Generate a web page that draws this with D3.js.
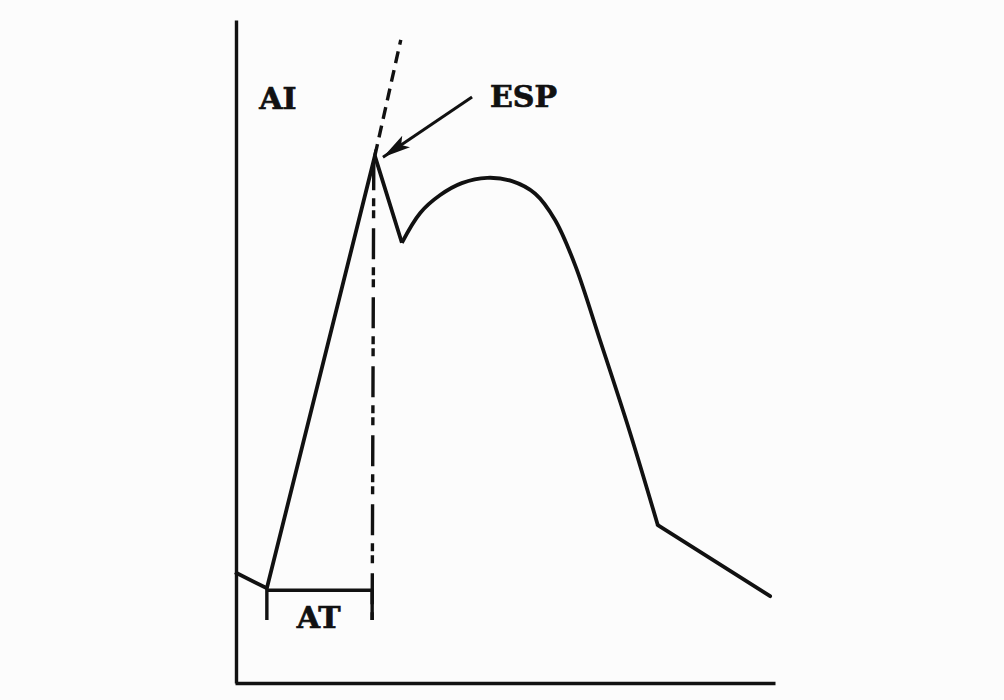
<!DOCTYPE html>
<html>
<head>
<meta charset="utf-8">
<script src="https://cdn.jsdelivr.net/npm/d3@7/dist/d3.min.js"></script>
<style>
  html, body { margin: 0; padding: 0; background: #fcfcfc; }
  svg { display: block; }
  text { font-family: "DejaVu Serif", "Liberation Serif", serif; font-weight: bold; fill: #111; stroke: #111; stroke-width: 0.7px; }
</style>
</head>
<body>
<script>
// ---- data (time in %, AI in %) ----
const riseT = [0, 5.9, 25.9, 30.9];
const riseAI = [16.7, 14.3, 79.5, 66.4];
const humpT = [30.9, 34.3, 38.0, 42.0, 46.7, 51.3, 55.6, 59.3, 63.0, 67.6, 73.1, 78.3];
const humpAI = [66.4, 70.9, 73.6, 75.4, 76.2, 75.7, 73.8, 69.8, 63.0, 51.7, 37.9, 23.8];
const tailT = [78.3, 99.1];
const tailAI = [23.8, 13.1];
const extT = [25.9, 30.7];          // dashed extension of the rise
const extAI = [79.5, 97.0];
const espT = 25.7;                  // ESP vertical marker
const espRange = [79.0, 9.5];
const atT = [5.9, 25.4];            // AT bracket
const atLevel = 14.0;
const atTickEnd = 9.5;
const arrowFrom = [43.9, 88.4];
const arrowTo = [27.4, 79.3];
const labels = [
  { text: "AI", t: 4.5, ai: 86.6, anchor: "start" },
  { text: "ESP", t: 47.2, ai: 86.9, anchor: "start" },
  { text: "AT", t: 15.5, ai: 8.3, anchor: "middle" }
];

const W = 1004, H = 700;
const svg = d3.select("body").append("svg").attr("width", W).attr("height", H);

const x = d3.scaleLinear().domain([0, 100]).range([235, 775]);
const y = d3.scaleLinear().domain([0, 100]).range([683, 20]);

// axes (no ticks)
svg.append("g").attr("transform", `translate(0,${y(0)})`)
  .call(d3.axisBottom(x).tickValues([]).tickSizeOuter(0))
  .call(g => g.select(".domain").attr("stroke", "#111").attr("stroke-width", 3.4));
svg.append("g").attr("transform", `translate(${x(0) + 1},0)`)
  .call(d3.axisLeft(y).tickValues([]).tickSizeOuter(0))
  .call(g => g.select(".domain").attr("stroke", "#111").attr("stroke-width", 3.4));

const lineLin = d3.line().x(d => x(d[0])).y(d => y(d[1]));
const lineSmooth = d3.line().x(d => x(d[0])).y(d => y(d[1])).curve(d3.curveCatmullRom.alpha(0.5));
const zip = (a, b) => a.map((v, i) => [v, b[i]]);

const curveStyle = p => p.attr("fill", "none").attr("stroke", "#111")
  .attr("stroke-width", 3.8).attr("stroke-linejoin", "miter").attr("stroke-linecap", "butt");

svg.append("path").datum(zip(riseT, riseAI)).attr("d", lineLin).call(curveStyle);
svg.append("path").datum(zip(humpT, humpAI)).attr("d", lineSmooth).call(curveStyle);
svg.append("path").datum(zip(tailT, tailAI)).attr("d", lineLin).call(curveStyle)
  .attr("stroke-linecap", "round");

// dashed extension
svg.append("path").datum(zip(extT, extAI)).attr("d", lineLin)
  .attr("fill", "none").attr("stroke", "#111").attr("stroke-width", 3.4)
  .attr("stroke-dasharray", "12,7");

// ESP dash-dot vertical
svg.append("path").datum([[espT, espRange[0]], [atT[1], espRange[1]]]).attr("d", lineLin)
  .attr("fill", "none").attr("stroke", "#111").attr("stroke-width", 3.4)
  .attr("stroke-dasharray", "31,8,8,4,8,10");

// AT bracket
svg.append("path")
  .datum([[atT[0], atTickEnd], [atT[0], atLevel], [atT[1], atLevel], [atT[1], atTickEnd]])
  .attr("d", lineLin).attr("fill", "none").attr("stroke", "#111")
  .attr("stroke-width", 3.4).attr("stroke-linejoin", "miter");

// arrow
svg.append("defs").append("marker")
  .attr("id", "ah").attr("viewBox", "0 0 28 14").attr("refX", 28).attr("refY", 7)
  .attr("markerWidth", 28).attr("markerHeight", 14).attr("markerUnits", "userSpaceOnUse")
  .attr("orient", "auto")
  .append("path").attr("d", "M0,0 L28,7 L0,14 L6,7 Z").attr("fill", "#111");
svg.append("path").datum([arrowFrom, arrowTo]).attr("d", lineLin)
  .attr("fill", "none").attr("stroke", "#111").attr("stroke-width", 3)
  .attr("marker-end", "url(#ah)");

// labels
svg.selectAll("text.lbl").data(labels).enter().append("text")
  .attr("class", "lbl")
  .attr("x", d => x(d.t)).attr("y", d => y(d.ai))
  .attr("text-anchor", d => d.anchor)
  .attr("font-size", 30)
  .text(d => d.text);
</script>
</body>
</html>
